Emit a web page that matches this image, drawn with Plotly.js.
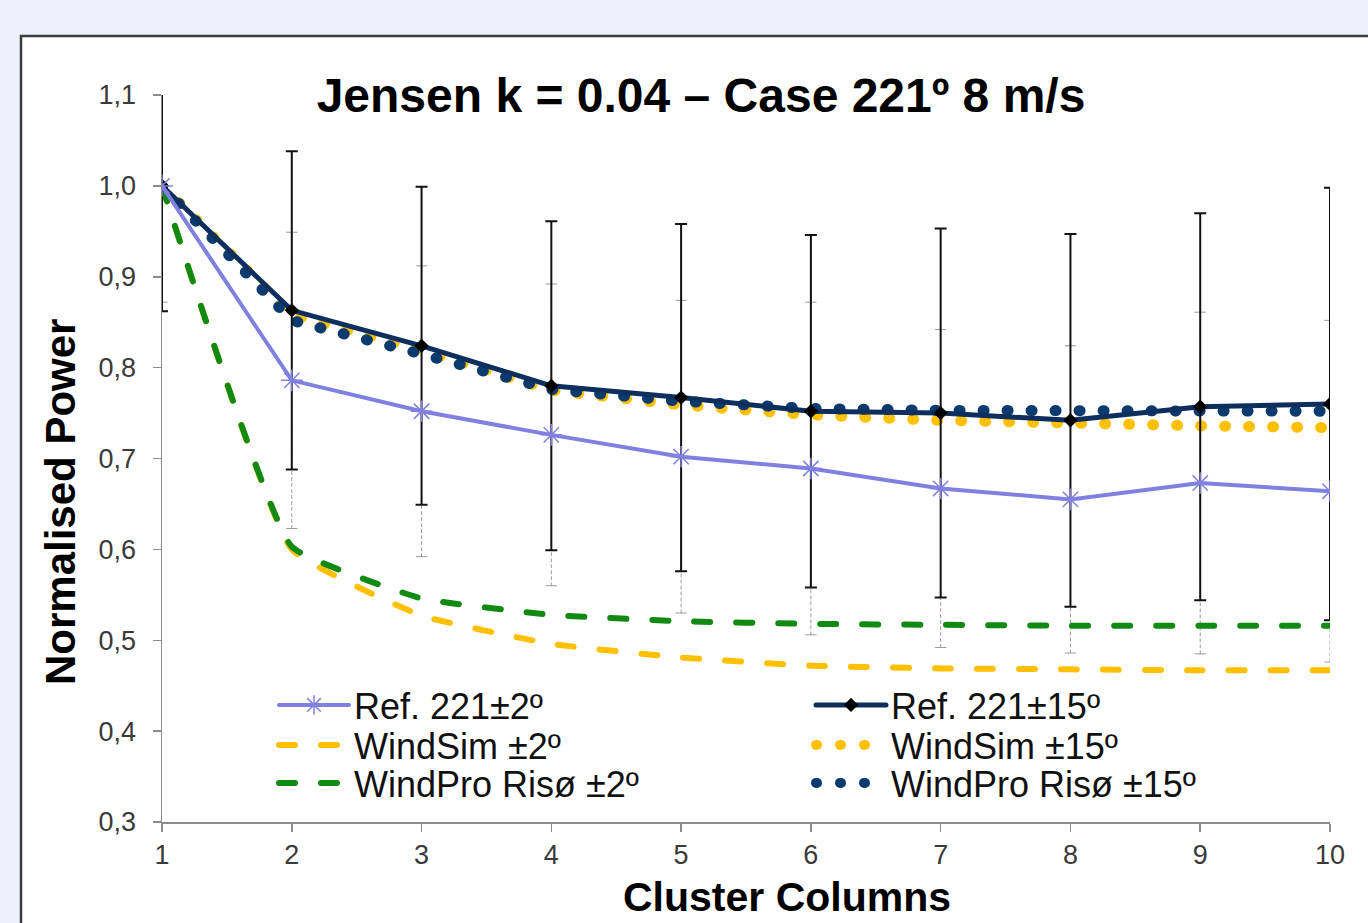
<!DOCTYPE html>
<html>
<head>
<meta charset="utf-8">
<script src="https://cdn.plot.ly/plotly-3.0.1.min.js"></script>
<style>
  html, body { margin: 0; padding: 0; background: #EEF0FA; }
  #chart { width: 1368px; height: 923px; }
  .scatterlayer path.js-line, .legend path.js-line, .legendlines path { stroke-linecap: round !important; }
</style>
</head>
<body>
<div id="chart"></div>
<script>
// ---- data ----
const columns   = [1, 2, 3, 4, 5, 6, 7, 8, 9, 10];
const ref2      = [1.000, 0.786, 0.752, 0.726, 0.702, 0.689, 0.667, 0.655, 0.673, 0.664];
const ref2Err   = [0.128, 0.163, 0.160, 0.166, 0.172, 0.183, 0.175, 0.169, 0.188, 0.188];
const ref15     = [1.000, 0.863, 0.824, 0.780, 0.767, 0.752, 0.750, 0.742, 0.757, 0.760];
const ref15Err  = [0.138, 0.175, 0.175, 0.181, 0.191, 0.194, 0.203, 0.205, 0.213, 0.238];
const windSim2  = [1.000, 0.600, 0.527, 0.496, 0.481, 0.472, 0.469, 0.468, 0.467, 0.467];
const windPro2  = [1.000, 0.603, 0.546, 0.528, 0.521, 0.518, 0.517, 0.516, 0.516, 0.516];
const windSim15 = [1.000, 0.858, 0.819, 0.775, 0.759, 0.748, 0.742, 0.738, 0.736, 0.734];
const windPro15 = [1.000, 0.852, 0.815, 0.776, 0.763, 0.755, 0.753, 0.753, 0.753, 0.752];
const names = ['Ref. 221±2º', 'Ref. 221±15º', 'WindSim ±2º', 'WindSim ±15º', 'WindPro Risø ±2º', 'WindPro Risø ±15º'];
const yTicks = [0.3, 0.4, 0.5, 0.6, 0.7, 0.8, 0.9, 1.0, 1.1];

// dashed grey error bars for Ref ±2º (built from ref2 / ref2Err)
const errX = [], errY = [];
columns.forEach((c, i) => {
  errX.push(c, c, null);
  errY.push(ref2[i] - ref2Err[i], ref2[i] + ref2Err[i], null);
});

const FONT = 'Arial, "Liberation Sans", sans-serif';
const traces = [
  { x: errX, y: errY, mode: 'lines+markers', showlegend: false, hoverinfo: 'skip',
    line: { color: '#9a9a9a', width: 1, dash: '3px,3px' },
    marker: { symbol: 'line-ew-open', size: 8, line: { color: '#9a9a9a', width: 1 } } },
  { x: columns, y: windSim2, name: names[2], legend: 'legend3', mode: 'lines',
    line: { color: '#FFC000', width: 6, dash: '16px,26px', shape: 'spline', smoothing: 0.35 } },
  { x: columns, y: windPro2, name: names[4], legend: 'legend5', mode: 'lines',
    line: { color: '#118A11', width: 6, dash: '16px,26px', shape: 'spline', smoothing: 0.35 } },
  { x: columns, y: windSim15, name: names[3], legend: 'legend4', mode: 'lines',
    line: { color: '#FFC000', width: 11, dash: '1px,23px' } },
  { x: columns, y: windPro15, name: names[5], legend: 'legend6', mode: 'lines',
    line: { color: '#0B3A6E', width: 11, dash: '1px,23px' } },
  { x: columns, y: ref15, name: names[1], legend: 'legend2', mode: 'lines+markers',
    line: { color: '#0E2F5E', width: 5 },
    marker: { symbol: 'diamond', size: 11, color: '#000000' },
    error_y: { type: 'data', array: ref15Err, visible: true, color: '#111111', thickness: 2, width: 6 } },
  { x: columns, y: ref2, name: names[0], legend: 'legend', mode: 'lines+markers',
    line: { color: '#8080E0', width: 4 },
    marker: { symbol: 'asterisk-open', size: 18, color: '#8080E0', line: { color: '#8080E0', width: 1.5 } } }
];

// geometry helpers for legend placement (plot area 162..1330 x 95..822)
const L = 162, R = 1330, T = 95, B = 822;
const px = v => (v - L) / (R - L);
const py = v => (B - v) / (B - T);
const legendBase = {
  bgcolor: 'rgba(0,0,0,0)', borderwidth: 0, xanchor: 'left', yanchor: 'middle',
  itemwidth: 70, font: { family: FONT, size: 36, color: '#111111' }, itemclick: false
};
const colX = [px(274), px(811)];
const rowY = [py(705), py(745), py(783)];

const layout = {
  width: 1368, height: 923,
  paper_bgcolor: '#EEF0FA', plot_bgcolor: 'rgba(0,0,0,0)',
  margin: { l: L, r: 1368 - R, t: T, b: 923 - B, pad: 0 },
  separators: ',.',
  showlegend: true,
  title: { text: '<b>Jensen k = 0.04 – Case 221º 8 m/s</b>', xref: 'container', yref: 'container',
           x: 701 / 1368, y: 1 - 95 / 923, xanchor: 'center', yanchor: 'middle',
           font: { family: FONT, size: 48, color: '#000000' } },
  xaxis: { range: [1, 10], tickvals: columns, ticks: 'outside', ticklen: 8, tickwidth: 1.5,
           tickcolor: '#8c8c8c', showline: true, linecolor: '#8c8c8c', linewidth: 1.5,
           showgrid: false, zeroline: false, tickfont: { family: FONT, size: 27, color: '#3a3a3a' } },
  yaxis: { range: [0.3, 1.1], tickvals: yTicks, tickformat: '.1f', ticks: 'outside', ticklen: 8, tickwidth: 1.5,
           ticklabelstandoff: 11,
           tickcolor: '#8c8c8c', showline: true, linecolor: '#8c8c8c', linewidth: 1.5,
           showgrid: false, zeroline: false, tickfont: { family: FONT, size: 27, color: '#3a3a3a' } },
  legend:  Object.assign({}, legendBase, { x: colX[0], y: rowY[0] }),
  legend2: Object.assign({}, legendBase, { x: colX[1], y: rowY[0] }),
  legend3: Object.assign({}, legendBase, { x: colX[0], y: rowY[1] }),
  legend4: Object.assign({}, legendBase, { x: colX[1], y: rowY[1] }),
  legend5: Object.assign({}, legendBase, { x: colX[0], y: rowY[2] }),
  legend6: Object.assign({}, legendBase, { x: colX[1], y: rowY[2] }),
  shapes: [
    { type: 'rect', xref: 'paper', yref: 'paper', layer: 'below',
      x0: px(21), x1: px(1420), y0: py(1000), y1: py(36),
      fillcolor: '#FFFFFF', line: { color: '#3c3c3c', width: 2.5 } }
  ],
  annotations: [
    { text: '<b>Normalised Power</b>', xref: 'paper', yref: 'paper', x: px(60), y: py(502),
      textangle: -90, showarrow: false, xanchor: 'center', yanchor: 'middle',
      font: { family: FONT, size: 42, color: '#000000' } },
    { text: '<b>Cluster Columns</b>', xref: 'paper', yref: 'paper', x: px(787), y: py(897),
      showarrow: false, xanchor: 'center', yanchor: 'middle',
      font: { family: FONT, size: 41, color: '#000000' } }
  ]
};

Plotly.newPlot('chart', traces, layout, { displayModeBar: false, staticPlot: true });
</script>
</body>
</html>
